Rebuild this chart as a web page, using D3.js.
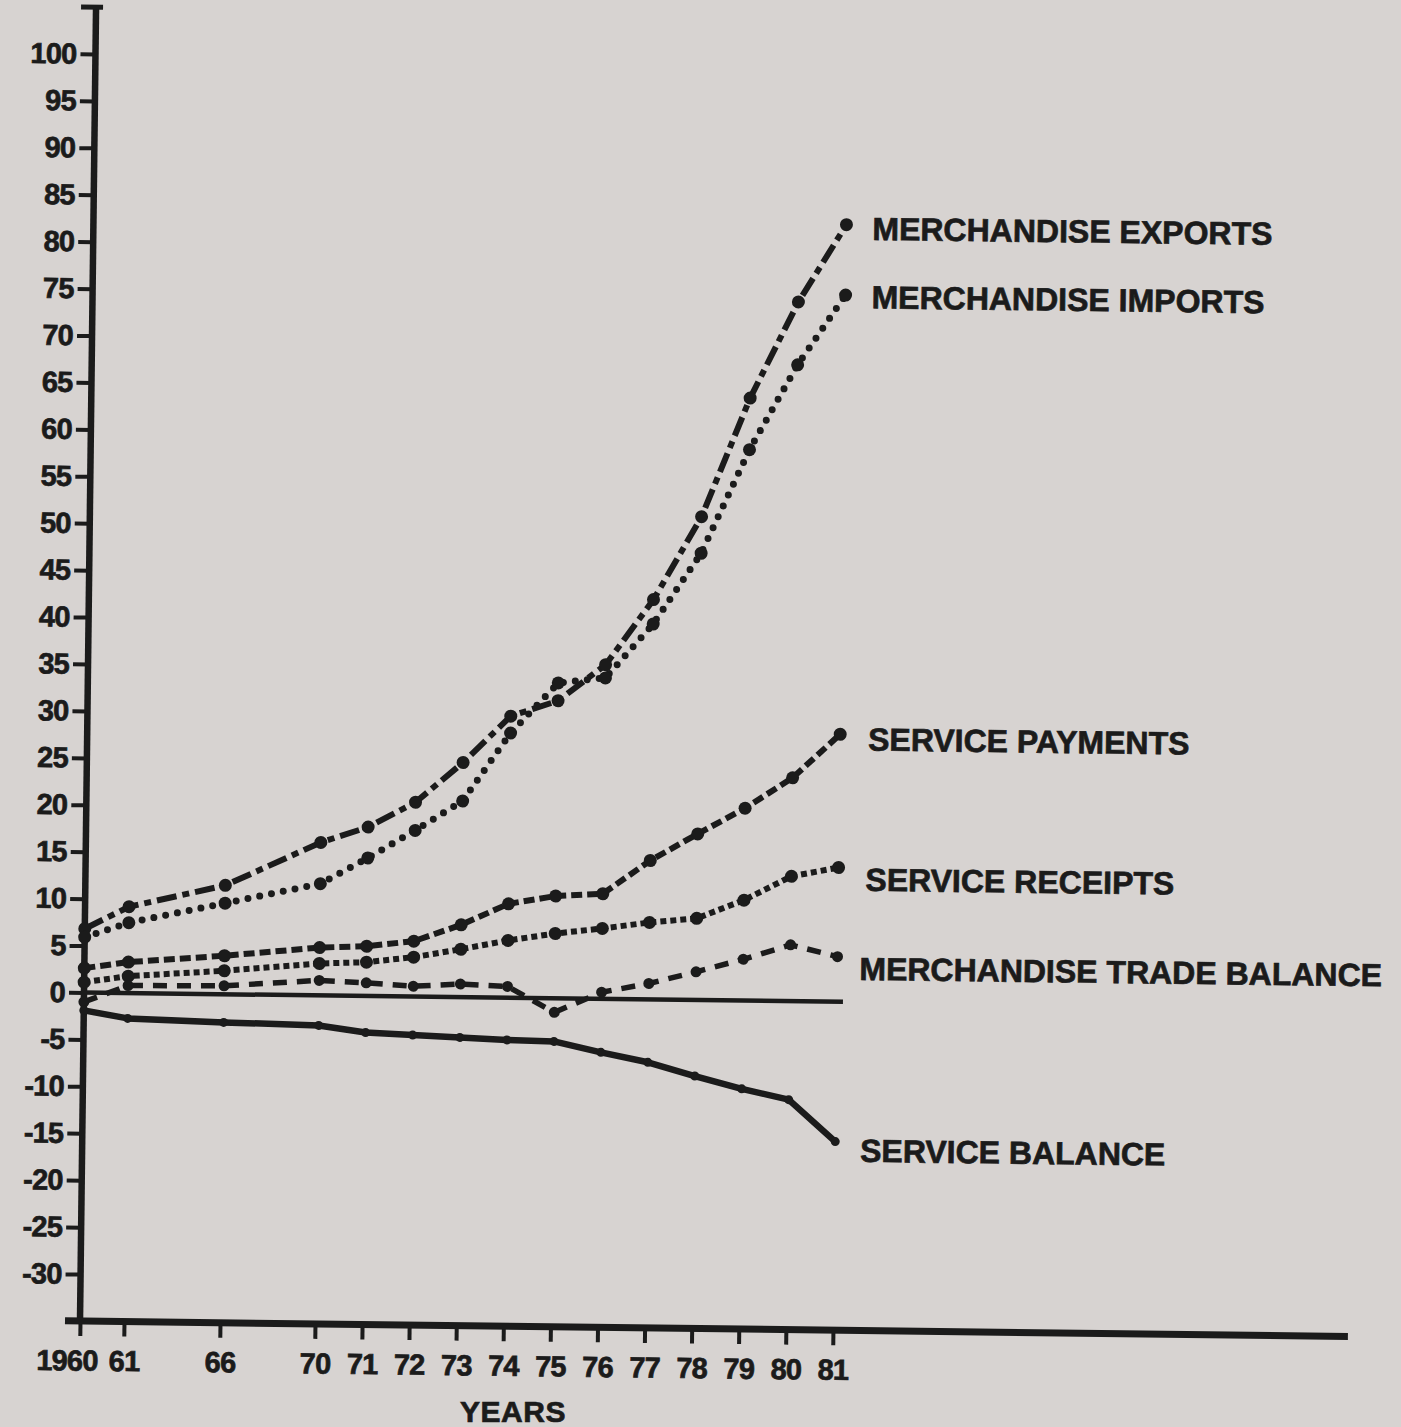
<!DOCTYPE html>
<html>
<head>
<meta charset="utf-8">
<script src="https://cdnjs.cloudflare.com/ajax/libs/d3/7.8.5/d3.min.js"></script>
<style>
  html, body { margin: 0; padding: 0; background: #d7d3d1; }
  svg { display: block; }
  text { font-family: 'Liberation Sans', Arial, sans-serif; font-weight: bold; fill: #1b1b1b;
         stroke: #1b1b1b; stroke-width: 0.7px; paint-order: stroke; }
</style>
</head>
<body>
<div id="container"></div>
<script>
const w = 1401;
const h = 1427;
const ink = '#1b1b1b';
const tilt = 0.7; // the scanned page sits a little crooked

// Data (billions)
const years = [1960, 1961, 1966, 1970, 1971, 1972, 1973, 1974, 1975, 1976, 1977, 1978, 1979, 1980, 1981];
const merchandiseExports = [6.8, 9.2, 11.6, 16.3, 18.0, 20.7, 25.0, 30.0, 31.7, 35.6, 42.6, 51.5, 64.2, 74.5, 82.8];
const merchandiseImports = [5.9, 7.5, 9.7, 11.9, 14.7, 17.7, 20.9, 28.2, 33.6, 34.2, 40.0, 47.6, 58.7, 67.8, 75.3];
const servicePayments = [2.6, 3.3, 4.1, 5.1, 5.3, 5.9, 7.7, 10.0, 10.9, 11.2, 14.8, 17.7, 20.5, 23.8, 28.5];
const serviceReceipts = [1.1, 1.8, 2.5, 3.4, 3.6, 4.2, 5.1, 6.1, 6.9, 7.5, 8.2, 8.7, 10.7, 13.3, 14.3];
const tradeBalance = [-1.0, 0.8, 0.9, 1.6, 1.4, 1.1, 1.4, 1.2, -1.5, 0.7, 1.7, 3.0, 4.4, 6.0, 4.8];
const serviceBalance = [-1.9, -2.7, -3.0, -3.2, -3.9, -4.1, -4.3, -4.5, -4.6, -5.7, -6.7, -8.1, -9.4, -10.5, -14.9];
const yTicks = d3.range(-30, 101, 5);

const series = [
  { name: 'MERCHANDISE EXPORTS', values: merchandiseExports, dash: '20,6,7,6', width: 6, cap: 'butt', r: 6.5, lx: 26, ly: 15 },
  { name: 'MERCHANDISE IMPORTS', values: merchandiseImports, dash: '0,12', width: 7, cap: 'round', r: 6.5, lx: 26, ly: 13 },
  { name: 'SERVICE PAYMENTS', values: servicePayments, dash: '11,5', width: 6, cap: 'butt', r: 6.5, lx: 28, ly: 16 },
  { name: 'SERVICE RECEIPTS', values: serviceReceipts, dash: '6,4', width: 6, cap: 'butt', r: 6.5, lx: 27, ly: 23 },
  { name: 'MERCHANDISE TRADE BALANCE', values: tradeBalance, dash: '14,10', width: 5.5, cap: 'butt', r: 5.5, lx: 22, ly: 23 },
  { name: 'SERVICE BALANCE', values: serviceBalance, dash: null, width: 6.5, cap: 'round', r: 4.5, lx: 25, ly: 20 }
];

const svg = d3.select('#container')
              .append('svg')
              .attr('width', w)
              .attr('height', h);

svg.append('rect')
   .attr('width', w)
   .attr('height', h)
   .attr('fill', '#d7d3d1');

// Scales (years are not evenly spaced on the page)
const xScale = d3.scaleLinear()
                 .domain([1960, 1961, 1966, 1970, 1981])
                 .range([80, 124, 220, 315, 833]);

const yScale = d3.scaleLinear()
                 .domain([-35, 105])
                 .range([1321, 7]);

const chart = svg.append('g')
                 .attr('transform', `rotate(${tilt}, 80, 1321)`);

// Axes
const xAxis = d3.axisBottom(xScale)
                .tickValues(years)
                .tickFormat(d => d === 1960 ? '1960' : String(d).slice(2))
                .tickSize(15)
                .tickSizeOuter(0)
                .tickPadding(14);

const gx = chart.append('g')
                .attr('transform', `translate(0, ${yScale(-35)})`)
                .call(xAxis);
gx.select('.domain').remove();
gx.selectAll('line').attr('stroke', ink).attr('stroke-width', 4);
gx.selectAll('text')
  .attr('fill', ink)
  .style('font-size', '29px')
  .style('letter-spacing', '-0.8px')
  .attr('dx', d => d === 1960 ? '-0.45em' : 0);

const yAxis = d3.axisLeft(yScale)
                .tickValues(yTicks)
                .tickFormat(d => d < 0 ? '-' + Math.abs(d) : d)
                .tickSize(15)
                .tickSizeOuter(0)
                .tickPadding(4);

const gy = chart.append('g')
                .attr('transform', `translate(${xScale(1960)}, 0)`)
                .call(yAxis);
gy.select('.domain').remove();
gy.selectAll('line').attr('stroke', ink).attr('stroke-width', 4);
gy.selectAll('text')
  .attr('fill', ink)
  .style('font-size', '29px')
  .style('letter-spacing', '-0.8px');

// axis lines
chart.append('line')
     .attr('x1', xScale(1960))
     .attr('x2', xScale(1960))
     .attr('y1', yScale(-35) + 3)
     .attr('y2', yScale(105))
     .attr('stroke', ink)
     .attr('stroke-width', 6.5);

chart.append('line')
     .attr('x1', xScale(1960) - 15)
     .attr('x2', xScale(1960) + 7)
     .attr('y1', yScale(105))
     .attr('y2', yScale(105))
     .attr('stroke', ink)
     .attr('stroke-width', 5);

chart.append('line')
     .attr('x1', xScale(1960) - 15)
     .attr('x2', 1348)
     .attr('y1', yScale(-35))
     .attr('y2', yScale(-35))
     .attr('stroke', ink)
     .attr('stroke-width', 7);

// zero line
chart.append('line')
     .attr('x1', xScale(1960))
     .attr('x2', xScale(1981) + 6)
     .attr('y1', yScale(0))
     .attr('y2', yScale(0))
     .attr('stroke', ink)
     .attr('stroke-width', 4.5);

// Lines
const line = d3.line()
               .x((d, i) => xScale(years[i]))
               .y(d => yScale(d));

chart.selectAll('.series-line')
     .data(series)
     .enter()
     .append('path')
     .attr('class', 'series-line')
     .attr('d', d => line(d.values))
     .attr('fill', 'none')
     .attr('stroke', ink)
     .attr('stroke-width', d => d.width)
     .attr('stroke-linecap', d => d.cap)
     .attr('stroke-linejoin', 'round')
     .attr('stroke-dasharray', d => d.dash);

// Dots
series.forEach(s => {
  chart.append('g')
       .selectAll('circle')
       .data(s.values)
       .enter()
       .append('circle')
       .attr('cx', (d, i) => xScale(years[i]))
       .attr('cy', d => yScale(d))
       .attr('r', s.r)
       .attr('fill', ink);
});

// Labels at line ends
const last = years.length - 1;
chart.selectAll('.series-label')
     .data(series)
     .enter()
     .append('text')
     .attr('class', 'series-label')
     .attr('x', d => xScale(years[last]) + d.lx)
     .attr('y', d => yScale(d.values[last]) + d.ly)
     .style('font-size', '32px')
     .style('letter-spacing', '0px')
     .text(d => d.name);

svg.append('text')
   .attr('x', 513)
   .attr('y', 1422)
   .attr('text-anchor', 'middle')
   .style('font-size', '30px')
   .style('letter-spacing', '0.5px')
   .text('YEARS');
</script>
</body>
</html>
